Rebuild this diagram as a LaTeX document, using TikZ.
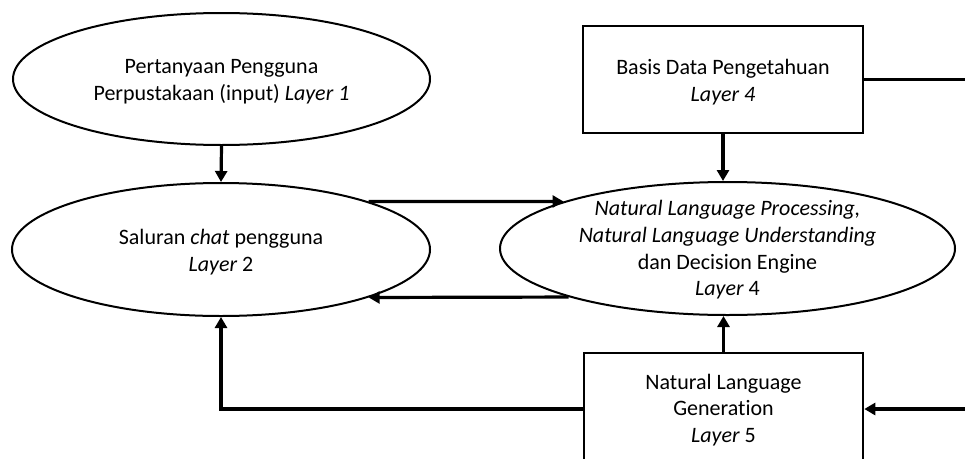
\documentclass[tikz,border=0pt]{standalone}
\usepackage{fontspec}
\setmainfont{Carlito}[Ligatures=NoCommon]
\usetikzlibrary{arrows.meta,shapes.geometric}
\begin{document}
\begin{tikzpicture}[x=1pt,y=-1pt,
  ell/.style={draw, ellipse, line width=2pt, inner sep=0pt},
  boxnode/.style={draw, rectangle, line width=2.6pt, inner sep=0pt},
  txt/.style={align=center, font=\fontsize{22}{26.7}\selectfont, inner sep=0pt},
  arr/.style={line width=3.2pt, -{Triangle[length=11pt,width=12pt]}},
  plain/.style={line width=3.2pt}]
\clip (0,0) rectangle (965,458);
\fill[white] (0,0) rectangle (965,458);
% ellipses
\node[ell, minimum width=417pt, minimum height=132pt] (e1) at (221.5,79) {};
\node[ell, minimum width=418pt, minimum height=133pt] (e2) at (221,249.5) {};
\node[ell, minimum width=455pt, minimum height=133pt] (e3) at (727.5,248.5) {};
% boxes
\node[boxnode, minimum width=280pt, minimum height=107pt] (b1) at (723,79.5) {};
\node[boxnode, minimum width=279pt, minimum height=112pt] (b2) at (723.5,409) {};
% texts
\node[txt] (t1) at (221.5,82) {Pertanyaan Pengguna\\Perpustakaan (input) \textit{Layer 1}};
\node[txt] (t2) at (221,252) {Saluran \textit{chat} pengguna\\\textit{Layer} 2};
\node[txt] (t3) at (727.5,250) {\textit{Natural Language Processing,}\\\textit{Natural Language Understanding}\\dan Decision Engine\\\textit{Layer} 4};
\node[txt] (t4) at (723,82) {Basis Data Pengetahuan\\\textit{Layer 4}};
\node[txt] (t5) at (723.5,410) {Natural Language\\Generation\\\textit{Layer} 5};
% free ends at right edge
\coordinate (redge) at (965,0);
% connectors
\draw[arr] (e1.south) -- (e2.north);
\draw[arr] (e2.18) -- (e3.164);
\draw[arr] (e3.197) -- (e2.342);
\draw[arr] (b1.south) -- (b1.south |- e3.north);
\draw[plain] (b1.east) -- (b1.east -| redge);
\draw[arr] (b2.north) -- (b2.north |- e3.south);
\draw[arr] (b2.east -| redge) -- (b2.east);
\draw[arr] (b2.west) -- (b2.west -| e2.south) -- (e2.south);
\end{tikzpicture}
\end{document}
